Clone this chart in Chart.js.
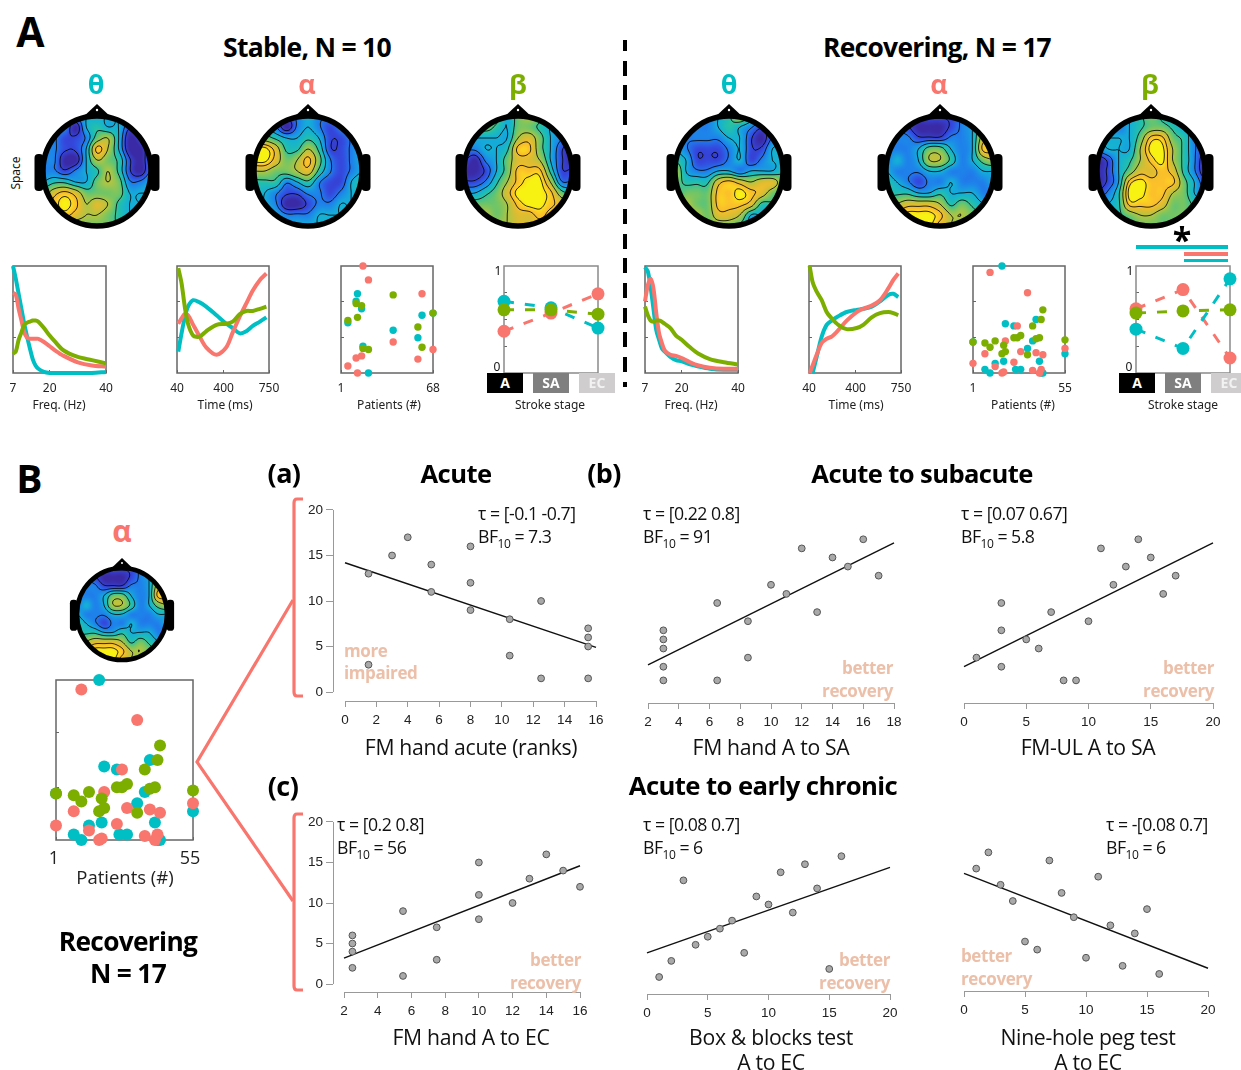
<!DOCTYPE html>
<html>
<head>
<meta charset="utf-8">
<title>Stable and recovering patients</title>
<script src="https://cdn.jsdelivr.net/npm/chart.js@4"></script>
<style>
  html, body { margin: 0; padding: 0; background: #fff; }
  #page { position: relative; width: 1241px; height: 1070px; overflow: hidden; font-family: "Open Sans", sans-serif; }
  #page canvas { position: absolute; }
  #page svg { position: absolute; left: 0; top: 0; }
  .t { position: absolute; white-space: nowrap; line-height: 1; }
  .t sub { font-size: 0.68em; line-height: 0; }
  .box { position: absolute; }
</style>
</head>
<body>
<div id="page"></div>
<script>
const TEAL = "#00BFC4";
const SALMON = "#F8766D";
const GREEN = "#7CAE00";

// panel A line plots: normalised loading (0-100)
const stableFreqX = [7, 8, 9, 10, 11, 12, 13, 14, 15, 16, 18, 20, 22, 25, 30, 35, 40];
const stableFreqTeal = [100, 88, 74, 60, 46, 34, 23, 13, 7, 4, 1, 0, 0, 0, 0, 0, 1];
const stableFreqSalmon = [75, 73, 60, 49, 38, 33, 32, 32, 32, 32, 29, 25, 21, 16, 10, 7, 6];
const stableFreqGreen = [18, 20, 31, 38, 45, 47, 48, 49, 49, 48, 42, 35, 29, 21, 15, 12, 9];

const stableTimeX = [50, 75, 100, 125, 165, 215, 265, 345, 420, 470, 525, 575, 625, 680, 730];
const stableTimeTeal = [20, 37, 52, 62, 68, 66, 62, 54, 46, 42, 37, 39, 44, 48, 52];
const stableTimeSalmon = [46, 51, 55, 54, 45, 34, 24, 17, 24, 38, 53, 65, 77, 87, 93];
const stableTimeGreen = [98, 84, 62, 46, 35, 34, 39, 45, 46, 48, 55, 58, 58, 60, 62];

const recFreqX = [7, 8, 9, 10, 11, 12, 13, 14, 16, 18, 20, 23, 26, 30, 35, 40];
const recFreqTeal = [99, 95, 80, 60, 40, 31, 23, 20, 15, 12, 11, 8, 6, 4, 3, 3];
const recFreqSalmon = [67, 82, 88, 79, 56, 37, 28, 21, 17, 16, 14, 10, 7, 5, 4, 4];
const recFreqGreen = [62, 54, 49, 48, 49, 49, 48, 46, 42, 35, 31, 24, 18, 13, 10, 8];

const recTimeX = [45, 68, 99, 138, 176, 215, 266, 331, 408, 459, 524, 588, 652, 691, 729];
const recTimeTeal = [null, 0, 15, 34, 45, 49, 53, 57, 59, 60, 62, 67, 73, 74, 71];
const recTimeSalmon = [0, 7, 17, 28, 32, 34, 40, 49, 57, 60, 63, 68, 79, 87, 93];
const recTimeGreen = [100, 85, 76, 68, 57, 51, 45, 41, 42, 45, 52, 56, 57, 56, 54];

// patient loadings
const stablePatTealX = [13, 12, 16, 6, 17, 21, 39, 57, 60, 68];
const stablePatTealY = [74, 67, 60, 47, 25, 0, 40, 33, 54, 56];
const stablePatSalmonX = [17, 21, 60, 12, 16, 6, 13, 39, 57, 68];
const stablePatSalmonY = [100, 87, 74, 14, 16, 6.5, 0, 29, 13, 22];
const stablePatGreenX = [39, 12, 16, 6, 13, 17, 21, 57, 60, 68];
const stablePatGreenY = [73, 65, 63, 49, 52, 23, 22, 43, 24, 56];

const recPatTealX = [18, 20, 25, 38, 36, 33, 1, 55, 14, 19, 40, 8, 11, 26, 29, 41, 42];
const recPatTealY = [100, 46, 44, 50, 30, 23, 29, 18, 9, 11, 11, 3.4, 0, 3.4, 3.4, 0, 0];
const recPatSalmonX = [11, 33, 27, 20, 8, 29, 38, 42, 55, 1, 14, 25, 18, 19, 36, 41, 40];
const recPatSalmonY = [94, 75, 44, 30, 18, 20, 19, 17, 23, 9, 6, 10, 0, 1, 2.5, 3.4, 0];
const recPatGreenX = [42, 41, 36, 25, 27, 29, 38, 40, 55, 1, 8, 14, 11, 19, 20, 18, 33];
const recPatGreenY = [59, 50, 44, 33, 33, 35, 32, 33, 31, 29, 28, 30, 24, 26, 20, 18, 17];

// stroke stage means
const stages = ["A", "SA", "EC"];
const stableStageTeal = [0.67, 0.61, 0.42];
const stableStageSalmon = [0.39, 0.56, 0.74];
const stableStageGreen = [0.59, 0.59, 0.55];
const recStageTeal = [0.41, 0.23, 0.88];
const recStageSalmon = [0.6, 0.78, 0.14];
const recStageGreen = [0.56, 0.58, 0.59];

// panel B correlations: ranks on both axes, [x values], [y values], [line end values]
const a1X = [1.5, 1.5, 3, 4, 5.5, 5.5, 8, 8, 8, 10.5, 10.5, 12.5, 12.5, 15.5, 15.5, 15.5, 15.5];
const a1Y = [13, 3, 15, 17, 14, 11, 16, 12, 9, 8, 4, 10, 1.5, 7, 6, 5, 1.5];
const a1Line = [14.2, 4.9];
const a2X = [3, 3, 3, 3, 3, 6.5, 6.5, 8.5, 8.5, 10, 11, 12, 13, 14, 15, 16, 17];
const a2Y = [7, 6, 5, 3, 1.5, 10, 1.5, 8, 4, 12, 11, 16, 9, 15, 14, 17, 13];
const a2Line = [3.2, 16.6];
const a3X = [1, 3, 3, 3, 5, 6, 7, 8, 9, 10, 11, 12, 13, 14, 15, 16, 17];
const a3Y = [4, 10, 7, 3, 6, 5, 9, 1.5, 1.5, 8, 16, 12, 14, 17, 15, 11, 13];
const a3Line = [3.0, 16.6];
const c1X = [2.5, 2.5, 2.5, 2.5, 5.5, 5.5, 7.5, 7.5, 10, 10, 10, 12, 13, 14, 15, 16];
const c1Y = [6, 5, 4, 2, 9, 1, 7, 3, 15, 11, 8, 10, 13, 16, 14, 12];
const c1Line = [3.2, 14.6];
const c2X = [1, 2, 3, 4, 5, 6, 7, 8, 9, 10, 11, 12, 13, 14, 15, 16];
const c2Y = [1, 3, 13, 5, 6, 7, 8, 4, 11, 10, 14, 9, 15, 12, 2, 16];
const c2Line = [4.0, 14.6];
const c3X = [1, 2, 3, 4, 5, 6, 7, 8, 9, 10, 11, 12, 13, 14, 15, 16];
const c3Y = [14, 16, 12, 10, 5, 4, 15, 11, 8, 3, 13, 7, 2, 6, 9, 1];
const c3Line = [13.4, 1.7];

// topographies: 11x11 grids of levels, 0 = deep blue, 9 = yellow
const topoStableTheta = ["22223333333", "22203433123", "22112563013", "22113863002", "22003654102", "22123464102", "34433565223", "57875555333", "68986764333", "57876654333", "45555554333"];
const topoStableAlpha = ["33212322333", "33202321233", "55433431123", "99744641123", "99756852123", "66556742123", "44423421134", "43211221234", "43200122334", "54322233334", "55433333334"];
const topoStableBeta = ["34553565433", "34543554333", "33333675321", "22334885310", "10235776310", "00135888411", "11246899622", "33457999854", "55556899876", "56656778766", "55566777766"];
const topoRecTheta = ["33223464333", "32223432123", "32222331023", "32111231133", "43111231233", "63223323334", "54447876775", "45558898754", "56558887443", "56657763323", "55555543333"];
const topoRecAlpha = ["22111112356", "22100012367", "22211122378", "22235532388", "23236642356", "32223322233", "43212232223", "44433433322", "56777645432", "78999866543", "78999765543"];
const topoRecBeta = ["33334543333", "33234554333", "33335885422", "23336996421", "01346896420", "01357787420", "01389888531", "12499886532", "33488875543", "43456655544", "44445555554"];

const topoLevels = [0.8, 1.8, 3, 4.3, 6, 7.6, 8.6];
const parula = [[58, 42, 165], [52, 72, 222], [30, 130, 235], [20, 175, 215], [35, 192, 170], [115, 197, 100], [175, 197, 68], [222, 188, 48], [252, 192, 42], [248, 242, 18]];

const page = document.getElementById("page");

function addText(html, x, y, size, opts = {}) {
  const el = document.createElement("div");
  el.className = "t";
  el.innerHTML = html;
  const ax = opts.align === "left" ? "0" : opts.align === "right" ? "-100%" : "-50%";
  el.style.left = x + "px";
  el.style.top = y - 1.5 + "px";
  el.style.fontSize = size + "px";
  el.style.fontWeight = opts.weight || 400;
  el.style.color = opts.color || "#111";
  el.style.fontFamily = opts.font || '"Open Sans", sans-serif';
  if (opts.spacing) el.style.letterSpacing = opts.spacing + "px";
  el.style.transform = `translate(${ax}, -50%)`;
  if (opts.rotate) el.style.transform = `translate(-50%, -50%) rotate(${opts.rotate}deg)`;
  page.appendChild(el);
}

function addBox(x, y, w, h, color) {
  const el = document.createElement("div");
  el.className = "box";
  el.style.cssText = `left:${x}px;top:${y}px;width:${w}px;height:${h}px;background:${color}`;
  page.appendChild(el);
}

// canvas whose chart area lands on the pixel rect given, with fixed margins
function addChart(rect, margin, config) {
  const c = document.createElement("canvas");
  const w = rect.r - rect.l + margin.l + margin.r;
  const h = rect.b - rect.t + margin.t + margin.b;
  c.width = w;
  c.height = h;
  c.style.cssText = `left:${rect.l - margin.l}px;top:${rect.t - margin.t}px;width:${w}px;height:${h}px`;
  page.appendChild(c);
  config.options = Object.assign({ responsive: false, animation: false, devicePixelRatio: 1, events: [] }, config.options);
  config.options.layout = { padding: { top: margin.t, right: margin.r } };
  config.options.plugins = Object.assign({ legend: { display: false }, tooltip: { enabled: false } }, config.options.plugins);
  // label overhang must not shrink the plot area
  const noPad = (s) => { s.paddingLeft = s.paddingRight = s.paddingTop = s.paddingBottom = 0; };
  config.options.scales.x.afterFit = (s) => { s.height = margin.b; noPad(s); };
  config.options.scales.y.afterFit = (s) => { s.width = margin.l; noPad(s); };
  return new Chart(c.getContext("2d"), config);
}

const frame = (color, width) => ({
  id: "frame",
  beforeDatasetsDraw(chart) {
    const a = chart.chartArea, ctx = chart.ctx;
    ctx.save();
    ctx.strokeStyle = color;
    ctx.lineWidth = width;
    ctx.strokeRect(a.left, a.top, a.right - a.left, a.bottom - a.top);
    ctx.restore();
  },
});

const pts = (xs, ys) => xs.map((x, i) => ({ x: x, y: ys[i] }));

function hiddenY(min, max, ticks) {
  return {
    type: "linear", min: min, max: max,
    border: { display: false },
    grid: { drawOnChartArea: false, drawTicks: true, tickLength: -3, color: "#666" },
    ticks: { display: false },
    afterBuildTicks: (s) => { s.ticks = ticks.map((v) => ({ value: v })); },
  };
}

function smallX(min, max, ticks) {
  return {
    type: "linear", min: min, max: max,
    border: { display: false },
    grid: { drawOnChartArea: false, tickLength: -3, color: "#666" },
    ticks: { padding: 11, maxRotation: 0, autoSkip: false, color: "#222", font: { family: "Noto Sans", size: 12 } },
    afterBuildTicks: (s) => { s.ticks = ticks.map((v) => ({ value: v })); },
  };
}

function lineBox(rect, min, max, ticks, xs, teal, salmon, green) {
  const ds = (ys, color) => ({ data: pts(xs, ys), borderColor: color, borderWidth: 4, pointRadius: 0, tension: 0.3, clip: false, spanGaps: true });
  addChart(rect, { l: 12, r: 14, t: 6, b: 36 }, {
    type: "line",
    data: { datasets: [ds(green, GREEN), ds(salmon, SALMON), ds(teal, TEAL)] },
    options: { scales: { x: smallX(min, max, ticks), y: hiddenY(0, 100, [33, 67]) } },
    plugins: [frame("#666", 1.5)],
  });
}

function patientBox(rect, maxPat, radius, series, tickSize) {
  const ds = (s) => ({ data: pts(s[0], s[1]), backgroundColor: s[2], borderWidth: 0, pointRadius: radius, clip: false });
  const xs = smallX(1, maxPat, [1, maxPat]);
  xs.ticks.display = tickSize > 0;
  addChart(rect, { l: 12, r: 14, t: 8, b: 36 }, {
    type: "scatter",
    data: { datasets: series.map(ds) },
    options: { scales: { x: xs, y: hiddenY(0, 100, [33, 67]) } },
    plugins: [frame("#666", 1.5)],
  });
}

function stageBox(rect, teal, salmon, green) {
  const ds = (ys, color) => ({ data: ys, borderColor: color, backgroundColor: color, pointBackgroundColor: color, pointBorderWidth: 0, borderWidth: 3, borderDash: [10, 11], pointRadius: 6.5, clip: false });
  addChart(rect, { l: 12, r: 14, t: 8, b: 10 }, {
    type: "line",
    data: { labels: stages, datasets: [ds(green, GREEN), ds(teal, TEAL), ds(salmon, SALMON)] },
    options: {
      scales: {
        x: { type: "category", offset: false, border: { display: false }, grid: { drawOnChartArea: false, drawTicks: false }, ticks: { display: false } },
        y: hiddenY(0, 1, [0.25, 0.5, 0.75]),
      },
    },
    plugins: [frame("#8a8a8a", 1.5)],
  });
  [["A", "#000", -17, "#fff"], ["SA", "#7f7f7f", 29, "#fff"], ["EC", "#cfcdcd", 75, "#f2f2f2"]].forEach((b) => {
    const x = rect.l + b[2];
    addBox(x, 373, Math.min(36, 1241 - x), 20, b[1]);
    addText(b[0], x + 18, 384, 14, { weight: 700, color: b[3] });
  });
  addText("1", rect.l - 6, 272, 12, { font: "Noto Sans" });
  addText("0", rect.l - 7, 368, 12, { font: "Noto Sans" });
}

// draws the R style detached axes between first and last tick
const detachedAxes = {
  id: "detachedAxes",
  afterDraw(chart) {
    const ctx = chart.ctx, a = chart.chartArea, xs = chart.scales.x, ys = chart.scales.y;
    ctx.save();
    ctx.strokeStyle = "#999";
    ctx.lineWidth = 1;
    ctx.beginPath();
    ctx.moveTo(xs.getPixelForValue(xs.ticks[0].value), a.bottom + 0.5);
    ctx.lineTo(xs.getPixelForValue(xs.ticks[xs.ticks.length - 1].value), a.bottom + 0.5);
    if (ys.ticks.length) {
      ctx.moveTo(a.left + 0.5, ys.getPixelForValue(ys.ticks[0].value));
      ctx.lineTo(a.left + 0.5, ys.getPixelForValue(ys.ticks[ys.ticks.length - 1].value));
    }
    ctx.stroke();
    ctx.restore();
  },
};

// p = {x0,x1 value->px anchors, y0,y20, axisY, left}
function corrPlot(p, xs, ys, line) {
  const xPerPx = (p.xMax - p.xMin) / (p.x1 - p.x0);
  const yPerPx = 20 / (p.y0 - p.y20);
  const rect = { l: p.left, r: p.x1 + 6, t: p.y20 - 6, b: p.axisY };
  const xMin = p.xMin - (p.x0 - rect.l) * xPerPx;
  const xMax = p.xMax + (rect.r - p.x1) * xPerPx;
  const yMin = 0 - (rect.b - p.y0) * yPerPx;
  const yMax = 20 + (p.y20 - rect.t) * yPerPx;
  const xTicks = [];
  for (let v = p.xMin; v <= p.xMax; v += p.xStep) xTicks.push(v);
  const yTicks = p.yAxis ? [0, 5, 10, 15, 20] : [];
  addChart(rect, { l: 40, r: 30, t: 4, b: 32 }, {
    type: "scatter",
    data: {
      datasets: [
        { data: pts(xs, ys), backgroundColor: "#a9a9a9", borderColor: "#555", borderWidth: 1, pointRadius: 3.4, clip: false },
        { data: pts([p.xMin, p.xMax], line), showLine: true, borderColor: "#111", borderWidth: 1.4, pointRadius: 0, clip: false },
      ],
    },
    options: {
      scales: {
        x: {
          type: "linear", min: xMin, max: xMax,
          border: { display: false },
          grid: { drawOnChartArea: false, tickLength: 6, color: "#999" },
          ticks: { padding: 5, maxRotation: 0, autoSkip: false, color: "#222", font: { family: "Liberation Sans", size: 13.5 } },
          afterBuildTicks: (s) => { s.ticks = xTicks.map((v) => ({ value: v })); },
        },
        y: {
          type: "linear", min: yMin, max: yMax,
          border: { display: false },
          grid: { drawOnChartArea: false, drawTicks: p.yAxis, tickLength: 7, color: "#999" },
          ticks: { display: p.yAxis, padding: 3, color: "#222", font: { family: "Liberation Sans", size: 13.5 } },
          afterBuildTicks: (s) => { s.ticks = yTicks.map((v) => ({ value: v })); },
        },
      },
    },
    plugins: [detachedAxes],
  });
}

// topographic map: bicubic resample of the grid, iso lines, head outline
function catmull(a, b, c, d, t) {
  return b + 0.5 * t * (c - a + t * (2 * a - 5 * b + 4 * c - d + t * (3 * (b - c) + d - a)));
}

function sampleGrid(g, x, y) {
  const n = g.length - 1;
  const xi = Math.min(Math.floor(x), n - 1), yi = Math.min(Math.floor(y), n - 1);
  const at = (r, c) => g[Math.max(0, Math.min(n, r))][Math.max(0, Math.min(n, c))];
  const row = (r) => catmull(at(r, xi - 1), at(r, xi), at(r, xi + 1), at(r, xi + 2), x - xi);
  return catmull(row(yi - 1), row(yi), row(yi + 1), row(yi + 2), y - yi);
}

function palette(v) {
  const t = Math.max(0, Math.min(8.999, v));
  const i = Math.floor(t), f = t - i;
  return parula[i].map((c, k) => c + (parula[i + 1][k] - c) * f);
}

const topoPlugin = {
  id: "topo",
  beforeDatasetsDraw(chart, args, opts) {
    const grid = opts.rows.map((r) => r.split("").map(Number));
    const ctx = chart.ctx, a = chart.chartArea;
    const xs = chart.scales.x, ys = chart.scales.y;
    const w = Math.round(a.right - a.left), h = Math.round(a.bottom - a.top);
    const cx = xs.getPixelForValue(5), cy = ys.getPixelForValue(5);
    const rx = w / 2, ry = h / 2;
    const k = opts.ring / 5.5;

    const field = [];
    for (let j = 0; j <= h; j++) {
      const row = [];
      for (let i = 0; i <= w; i++) {
        row.push(sampleGrid(grid, xs.getValueForPixel(a.left + i), ys.getValueForPixel(a.top + j)));
      }
      field.push(row);
    }

    const off = document.createElement("canvas");
    off.width = w;
    off.height = h;
    const oc = off.getContext("2d");
    const img = oc.createImageData(w, h);
    for (let j = 0; j < h; j++) {
      for (let i = 0; i < w; i++) {
        const col = palette(field[j][i]);
        const o = (j * w + i) * 4;
        img.data[o] = col[0];
        img.data[o + 1] = col[1];
        img.data[o + 2] = col[2];
        img.data[o + 3] = 255;
      }
    }
    oc.putImageData(img, 0, 0);

    ctx.save();
    ctx.fillStyle = "#000";
    // ears
    [-1, 1].forEach((s) => {
      ctx.beginPath();
      ctx.roundRect(cx + s * (rx + 4 * k) - 4.5 * k, cy - 17 * k, 9 * k, 37 * k, 4 * k);
      ctx.fill();
    });
    // nose
    ctx.beginPath();
    ctx.moveTo(cx, cy - ry - 12 * k);
    ctx.lineTo(cx + 15 * k, cy - ry + 2);
    ctx.lineTo(cx - 15 * k, cy - ry + 2);
    ctx.closePath();
    ctx.fill();
    ctx.fillStyle = "#fff";
    ctx.beginPath();
    ctx.arc(cx, cy - ry - 6 * k, 1.2 * k, 0, Math.PI * 2);
    ctx.fill();

    ctx.save();
    ctx.beginPath();
    ctx.ellipse(cx, cy, rx, ry, 0, 0, Math.PI * 2);
    ctx.clip();
    ctx.drawImage(off, a.left, a.top);
    ctx.strokeStyle = "rgba(0,0,0,0.9)";
    ctx.lineWidth = 0.9 * Math.max(k, 0.95);
    ctx.beginPath();
    const step = 2;
    topoLevels.forEach((lv) => {
      for (let j = 0; j + step <= h; j += step) {
        for (let i = 0; i + step <= w; i += step) {
          const v = [field[j][i], field[j][i + step], field[j + step][i + step], field[j + step][i]];
          const cross = [];
          const edge = [[0, 1, i, j, step, 0], [1, 2, i + step, j, 0, step], [3, 2, i, j + step, step, 0], [0, 3, i, j, 0, step]];
          edge.forEach((e) => {
            const p = v[e[0]], q = v[e[1]];
            if ((p < lv) !== (q < lv)) {
              const f = (lv - p) / (q - p);
              cross.push([a.left + e[2] + e[4] * f, a.top + e[3] + e[5] * f]);
            }
          });
          if (cross.length >= 2) {
            ctx.moveTo(cross[0][0], cross[0][1]);
            ctx.lineTo(cross[1][0], cross[1][1]);
          }
          if (cross.length === 4) {
            ctx.moveTo(cross[2][0], cross[2][1]);
            ctx.lineTo(cross[3][0], cross[3][1]);
          }
        }
      }
    });
    ctx.stroke();
    ctx.restore();

    ctx.strokeStyle = "#000";
    ctx.lineWidth = opts.ring;
    ctx.beginPath();
    ctx.ellipse(cx, cy, rx, ry, 0, 0, Math.PI * 2);
    ctx.stroke();
    ctx.restore();
  },
};

function headMap(cx, cy, rx, ry, ring, rows) {
  const hiddenAxis = { type: "linear", display: true, border: { display: false }, grid: { display: false }, ticks: { display: false } };
  const m = 16;
  addChart({ l: cx - rx, r: cx + rx, t: cy - ry, b: cy + ry }, { l: m, r: m, t: m, b: m }, {
    type: "scatter",
    data: { datasets: [] },
    options: {
      plugins: { topo: { rows: rows, ring: ring } },
      scales: {
        x: Object.assign({}, hiddenAxis, { min: 0, max: 10 }),
        y: Object.assign({}, hiddenAxis, { min: 0, max: 10, reverse: true }),
      },
    },
    plugins: [topoPlugin],
  });
}

// ---- panel A ----
const headY = 171;
[[97, topoStableTheta], [308, topoStableAlpha], [518, topoStableBeta], [729, topoRecTheta], [940, topoRecAlpha], [1151, topoRecBeta]].forEach((h) => {
  headMap(h[0], headY, 54, 55, 5.5, h[1]);
});

lineBox({ l: 13, r: 106, t: 266, b: 373 }, 7, 40, [7, 20, 40], stableFreqX, stableFreqTeal, stableFreqSalmon, stableFreqGreen);
lineBox({ l: 177, r: 269, t: 266, b: 373 }, 40, 750, [40, 400, 750], stableTimeX, stableTimeTeal, stableTimeSalmon, stableTimeGreen);
patientBox({ l: 341, r: 433, t: 266, b: 373 }, 68, 3.7, [[stablePatGreenX, stablePatGreenY, GREEN], [stablePatSalmonX, stablePatSalmonY, SALMON], [stablePatTealX, stablePatTealY, TEAL]], 12);
stageBox({ l: 504, r: 598, t: 266, b: 373 }, stableStageTeal, stableStageSalmon, stableStageGreen);

lineBox({ l: 645, r: 738, t: 266, b: 373 }, 7, 40, [7, 20, 40], recFreqX, recFreqTeal, recFreqSalmon, recFreqGreen);
lineBox({ l: 809, r: 901, t: 266, b: 373 }, 40, 750, [40, 400, 750], recTimeX, recTimeTeal, recTimeSalmon, recTimeGreen);
patientBox({ l: 973, r: 1065, t: 266, b: 373 }, 55, 3.7, [[recPatGreenX, recPatGreenY, GREEN], [recPatSalmonX, recPatSalmonY, SALMON], [recPatTealX, recPatTealY, TEAL]], 12);
stageBox({ l: 1136, r: 1230, t: 266, b: 373 }, recStageTeal, recStageSalmon, recStageGreen);

addBox(1136, 245, 92, 3.5, TEAL);
addBox(1184, 252, 44, 3.5, SALMON);
addBox(1184, 258.5, 44, 3.5, TEAL);
addText("*", 1182, 240, 34, { weight: 700, color: "#000" });

// vertical divider
for (let y = 36; y < 388; y += 24.7) {
  const top = Math.max(y, 40);
  addBox(623, top, 4, Math.min(y + 15, 387) - top, "#000");
}

const bold = { weight: 700, color: "#000", spacing: -0.7 };
addText("A", 30, 32, 41, bold);
addText("Stable, N = 10", 307, 48, 26.5, bold);
addText("Recovering, N = 17", 937, 48, 26.4, bold);
[["θ", 96, TEAL], ["α", 307, SALMON], ["β", 518, GREEN], ["θ", 729, TEAL], ["α", 939, SALMON], ["β", 1150, GREEN]].forEach((g) => {
  addText(g[0], g[1], 84, 27, { weight: 700, color: g[2] });
});
addText("Space", 16, 174, 12, { font: "Noto Sans", rotate: -90 });
[[59, "Freq. (Hz)"], [225, "Time (ms)"], [389, "Patients (#)"], [550, "Stroke stage"], [691, "Freq. (Hz)"], [856, "Time (ms)"], [1023, "Patients (#)"], [1183, "Stroke stage"]].forEach((l) => {
  addText(l[1], l[0], 406, 12, { font: "Noto Sans", color: "#222" });
});

// ---- panel B left ----
addText("B", 29, 478, 39, bold);
addText("α", 122, 532, 30, { weight: 700, color: SALMON });
headMap(122, 614, 45, 46, 4.6, topoRecAlpha);
patientBox({ l: 56, r: 193, t: 680, b: 840 }, 55, 6, [[recPatGreenX, recPatGreenY, GREEN], [recPatSalmonX, recPatSalmonY, SALMON], [recPatTealX, recPatTealY, TEAL]], 0);
addText("1", 54, 858, 18, { color: "#222" });
addText("55", 190, 858, 18, { color: "#222" });
addText("Patients (#)", 125, 878, 18.5, { color: "#222" });
addText("Recovering", 128, 942, 26.3, bold);
addText("N = 17", 128, 974, 26.3, bold);

const ns = "http://www.w3.org/2000/svg";
const svg = document.createElementNS(ns, "svg");
svg.setAttribute("width", 1241);
svg.setAttribute("height", 1070);
[
  "M303 499 L297 499 Q294 499 294 503 L294 692 Q294 696 297 696 L303 696",
  "M303 814 L297 814 Q294 814 294 818 L294 986 Q294 990 297 990 L303 990",
  "M293 600 L197 762 L293 901",
].forEach((d) => {
  const path = document.createElementNS(ns, "path");
  path.setAttribute("d", d);
  path.setAttribute("fill", "none");
  path.setAttribute("stroke", SALMON);
  path.setAttribute("stroke-width", 3.2);
  svg.appendChild(path);
});
page.appendChild(svg);

// ---- correlations ----
corrPlot({ left: 333, x0: 345, x1: 596, xMin: 0, xMax: 16, xStep: 2, y0: 692, y20: 509, axisY: 701, yAxis: true }, a1X, a1Y, a1Line);
corrPlot({ left: 640, x0: 648, x1: 894, xMin: 2, xMax: 18, xStep: 2, y0: 694, y20: 511, axisY: 703, yAxis: false }, a2X, a2Y, a2Line);
corrPlot({ left: 956, x0: 964, x1: 1213, xMin: 0, xMax: 20, xStep: 5, y0: 694, y20: 511, axisY: 703, yAxis: false }, a3X, a3Y, a3Line);
corrPlot({ left: 333, x0: 344, x1: 580, xMin: 2, xMax: 16, xStep: 2, y0: 984, y20: 821, axisY: 992, yAxis: true }, c1X, c1Y, c1Line);
corrPlot({ left: 640, x0: 647, x1: 890, xMin: 0, xMax: 20, xStep: 5, y0: 985, y20: 823, axisY: 994, yAxis: false }, c2X, c2Y, c2Line);
corrPlot({ left: 956, x0: 964, x1: 1208, xMin: 0, xMax: 20, xStep: 5, y0: 982, y20: 819, axisY: 991, yAxis: false }, c3X, c3Y, c3Line);

const head = Object.assign({}, bold, { spacing: -0.6 });
addText("(a)", 284, 473, 27, head);
addText("Acute", 456, 475, 25.6, head);
addText("(b)", 604, 473, 27, head);
addText("Acute to subacute", 922, 475, 25.6, head);
addText("(c)", 283, 786, 27, head);
addText("Acute to early chronic", 763, 787, 25.7, head);

const stat = { align: "left", color: "#111", spacing: -0.5 };
[
  [478, 515, "τ = [-0.1 -0.7]", "7.3"],
  [643, 515, "τ = [0.22 0.8]", "91"],
  [961, 515, "τ = [0.07 0.67]", "5.8"],
  [337, 826, "τ = [0.2 0.8]", "56"],
  [643, 826, "τ = [0.08 0.7]", "6"],
  [1106, 826, "τ = -[0.08 0.7]", "6"],
].forEach((s) => {
  addText(s[2], s[0], s[1], 17.7, stat);
  addText(`BF<sub>10</sub> = ${s[3]}`, s[0], s[1] + 23, 17.7, stat);
});

const note = { weight: 700, color: "#ecbfa9", spacing: -0.4 };
const noteLeft = Object.assign({ align: "left" }, note);
const noteRight = Object.assign({ align: "right" }, note);
addText("more", 344, 651, 17, noteLeft);
addText("impaired", 344, 673, 17, noteLeft);
[[893, 668], [1214, 668], [581, 960], [890, 960]].forEach((n) => {
  addText("better", n[0], n[1], 17, noteRight);
  addText("recovery", n[0], n[1] + 23, 17, noteRight);
});
addText("better", 961, 956, 17, noteLeft);
addText("recovery", 961, 979, 17, noteLeft);

const xlab = { color: "#111", spacing: -0.3 };
[
  ["FM hand acute (ranks)", 471, 748],
  ["FM hand A to SA", 771, 748],
  ["FM-UL A to SA", 1088, 748],
  ["FM hand A to EC", 471, 1038],
  ["Box &amp; blocks test", 771, 1038],
  ["A to EC", 771, 1063],
  ["Nine-hole peg test", 1088, 1038],
  ["A to EC", 1088, 1063],
].forEach((l) => addText(l[0], l[1], l[2], 21.2, xlab));
</script>
</body>
</html>
